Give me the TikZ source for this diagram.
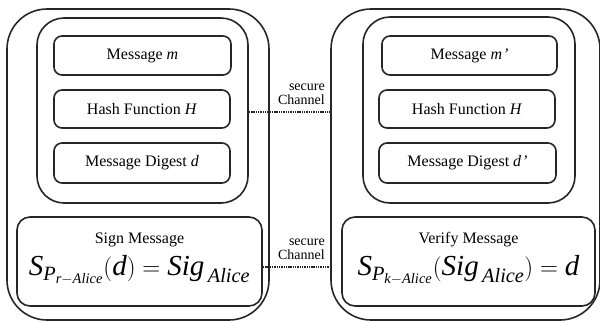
\documentclass[tikz,border=0pt]{standalone}
\usepackage{fontspec}
\setmainfont{Liberation Serif}
\usetikzlibrary{calc}
\tikzset{
  frame/.style={draw=black!85, line width=1.6pt, inner sep=0pt},
  outerbox/.style={frame, rounded corners=40pt},
  innerbox/.style={frame, rounded corners=27pt},
  itembox/.style={frame, rounded corners=8pt, font=\fontsize{16}{19}\selectfont, text=black},
  signbox/.style={frame, rounded corners=13pt},
  boxtext/.style={font=\fontsize{16}{19}\selectfont, text=black},
  formula/.style={font=\fontsize{29}{32}\selectfont, text=black},
  chan/.style={line width=1.6pt, draw=black!85, dash pattern=on 1.4pt off 0.9pt},
  chanlabel/.style={font=\fontsize{14}{16}\selectfont, align=right, anchor=east, inner sep=0pt, text=black}
}
\newcommand{\boxat}[6]{% name, style, x1, y1, x2, y2
  \node[#2, minimum width={#5-#3}, minimum height={#6-#4}] (#1) at ({(#3+#5)/2},{(#4+#6)/2}) {};}
\begin{document}
\begin{tikzpicture}[x=1pt,y=-1pt]
\useasboundingbox (0,0) rectangle (600,322);
\clip (0,0) rectangle (600,322);

% sender side
\boxat{louter}{outerbox}{7}{9}{269}{320}
\boxat{linner}{innerbox}{37}{18}{248}{203}
\node[itembox, minimum width=177pt, minimum height=39pt] (lmsg) at (142.5,55.5) {Message \textit{m}};
\node[itembox, minimum width=176pt, minimum height=38pt] (lhash) at (142,109) {Hash Function \textit{H}};
\node[itembox, minimum width=176pt, minimum height=40pt] (ldig) at (142,163) {Message Digest \textit{d}};
\node[signbox, minimum width=245pt, minimum height=89pt] (lsign) at (139.5,261.5) {};
\node[boxtext] (lsigntitle) at (139.5,240) {Sign Message};
\node[formula] (lsignformula) at (139.5,270)
  {$\mathit{S}_{\mathit{P}_{\mathit{r}-\mathit{Alice}}}(\mathit{d})=\mathit{Sig}_{\,\mathit{Alice}}$};

% receiver side
\boxat{router}{outerbox}{331}{9}{600}{320}
\boxat{rinner}{innerbox}{363}{17}{575}{203}
\node[itembox, minimum width=175pt, minimum height=39pt] (rmsg) at (469.5,55.5) {Message \textit{m\kern1pt'}};
\node[itembox, minimum width=176pt, minimum height=38pt] (rhash) at (467,109) {Hash Function \textit{H}};
\node[itembox, minimum width=177pt, minimum height=40pt] (rdig) at (467.5,163) {Message Digest \textit{d\kern1pt'}};
\node[signbox, minimum width=253pt, minimum height=89pt] (rsign) at (468.5,261.5) {};
\node[boxtext] (rsigntitle) at (468.5,240) {Verify Message};
\node[formula] (rsignformula) at (468.5,270)
  {$\mathit{S}_{\mathit{P}_{\mathit{k}-\mathit{Alice}}}(\mathit{Sig}_{\,\mathit{Alice}})=\mathit{d}$};

% secure channels
\draw[chan] ([yshift=-1.5pt]linner.east) -- ([yshift=-1.5pt]linner.east -| router.west);
\draw[chan] ([yshift=-5.5pt]lsign.east) -- ([yshift=-5.5pt]lsign.east -| router.west);
\node[chanlabel] (chanup) at (325,94) {secure\\[-2pt]Channel};
\node[chanlabel] (chandown) at (325,249) {secure\\[-2pt]Channel};
\end{tikzpicture}
\end{document}
